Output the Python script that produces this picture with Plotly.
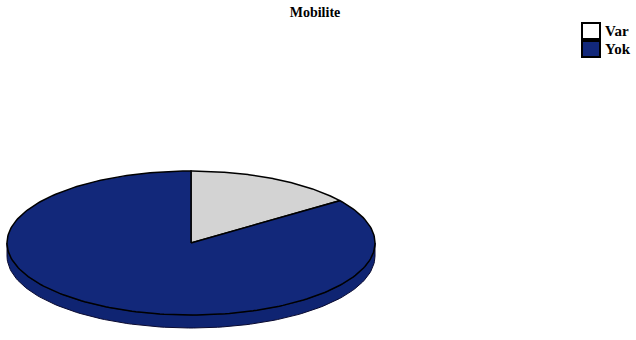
import numpy as np
import plotly.graph_objects as go

# ---- data ----
categories = ["Var", "Yok"]
values = [15, 85]
top_colors = ["#d3d3d3", "#12287a"]
side_colors = ["#a9a9a9", "#0f2472"]
legend_fill = ["#ffffff", "#12287a"]
title_text = "Mobilite"

# ---- geometry (pixel space) ----
W, H = 636, 340
cx, cy, rx, ry, depth = 191, 243, 184, 72, 13
start_angle = 90.0

def pt(theta_deg, dy=0.0):
    t = np.radians(theta_deg)
    return cx + rx * np.cos(t), cy - ry * np.sin(t) + dy

fig = go.Figure()

total = float(sum(values))
slices = []
a = start_angle
for cat, v in zip(categories, values):
    sweep = 360.0 * v / total
    slices.append((cat, a, a - sweep))
    a -= sweep

# side walls (front half: angles 180..360)
for (cat, a0, a1), sc in zip(slices, side_colors):
    lo, hi = min(a0, a1), max(a0, a1)
    for shift in (0, -360, 360):
        l, h = lo + shift, hi + shift
        s0, s1 = max(l, -180), min(h, 0)
        if s1 > s0:
            th = np.linspace(s0, s1, 120)
            xs_top, ys_top = pt(th)
            xs_bot, ys_bot = pt(th[::-1], depth)
            xs = np.concatenate([xs_top, xs_bot, [xs_top[0]]])
            ys = np.concatenate([ys_top, ys_bot, [ys_top[0]]])
            fig.add_trace(go.Scatter(x=xs, y=ys, mode="lines", fill="toself",
                                     fillcolor=sc, line=dict(color="#0a0a30", width=1),
                                     showlegend=False, hoverinfo="skip"))

# top faces
for (cat, a0, a1), tc in zip(slices, top_colors):
    th = np.linspace(a0, a1, 240)
    xs, ys = pt(th)
    xs = np.concatenate([[cx], xs, [cx]])
    ys = np.concatenate([[cy], ys, [cy]])
    fig.add_trace(go.Scatter(x=xs, y=ys, mode="lines", fill="toself",
                             fillcolor=tc, line=dict(color="black", width=1.5),
                             showlegend=False, hoverinfo="skip", name=cat))

# legend (drawn manually to match compact spacing)
lx, ly0, lstep, bw, bh = 582, 23, 18, 18, 16
shapes, annos = [], []
for i, (cat, lc) in enumerate(zip(categories, legend_fill)):
    y0 = ly0 + i * lstep
    shapes.append(dict(type="rect", xref="x", yref="y", x0=lx, x1=lx + bw,
                       y0=y0, y1=y0 + bh, fillcolor=lc,
                       line=dict(color="black", width=2)))
    annos.append(dict(x=lx + bw + 3, y=y0 + bh / 2, xref="x", yref="y",
                      text="<b>" + cat + "</b>", showarrow=False,
                      xanchor="left", yanchor="middle",
                      font=dict(family="Liberation Serif", size=15, color="black")))

fig.update_layout(
    width=W, height=H,
    margin=dict(l=0, r=0, t=0, b=0, autoexpand=False),
    paper_bgcolor="white", plot_bgcolor="white",
    xaxis=dict(range=[0, W], visible=False, fixedrange=True),
    yaxis=dict(range=[H, 0], visible=False, fixedrange=True),
    title=dict(text="<b>" + title_text + "</b>", x=315 / W, xanchor="center",
               y=1 - 12 / H, yanchor="middle",
               font=dict(family="Liberation Serif", size=14, color="black")),
    shapes=shapes, annotations=annos,
    showlegend=False,
)

fig.write_html("out.html")
